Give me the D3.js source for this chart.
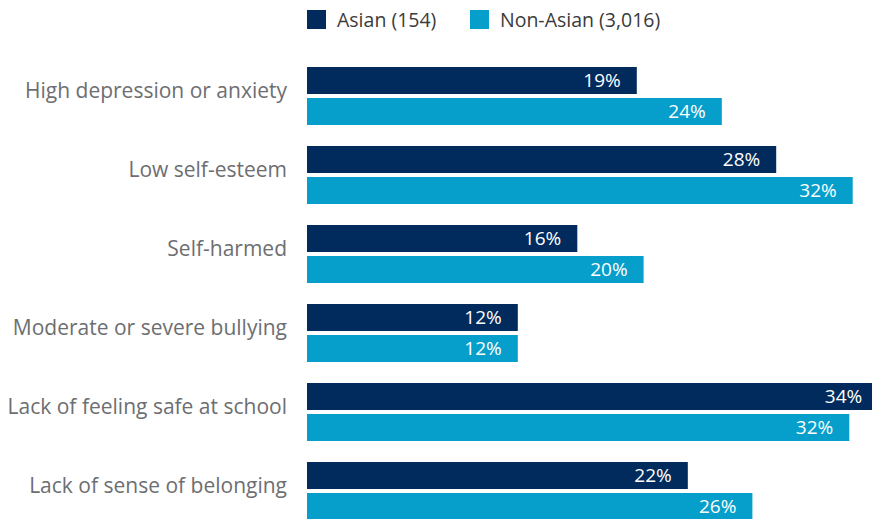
<!DOCTYPE html>
<html>
<head>
<meta charset="utf-8">
<script src="https://cdn.jsdelivr.net/npm/d3@7"></script>
<style>
  html, body { margin: 0; padding: 0; background: #fff; }
  svg { display: block; font-family: "Open Sans", sans-serif; }
</style>
</head>
<body>
<svg id="chart" width="872" height="519"></svg>
<script>
const categories = [
  "High depression or anxiety",
  "Low self-esteem",
  "Self-harmed",
  "Moderate or severe bullying",
  "Lack of feeling safe at school",
  "Lack of sense of belonging"
];
const seriesNames = ["Asian (154)", "Non-Asian (3,016)"];
const asianValues = [19.4, 27.6, 15.9, 12.4, 33.6, 22.4];
const nonAsianValues = [24.4, 32.1, 19.8, 12.4, 31.9, 26.2];
const colors = ["#012b5c", "#069fcb"];

const svg = d3.select("#chart");
const left = 307;

const x = d3.scaleLinear().domain([0, 33.235]).range([left, 872]);
const y = d3.scaleBand().domain(categories).range([67, 520]).paddingInner(0.266).paddingOuter(0);
const ySub = d3.scaleBand().domain([0, 1]).range([0, y.bandwidth()]).paddingInner(0.129);

const rows = categories.map((c, i) => ({ cat: c, vals: [asianValues[i], nonAsianValues[i]] }));

const g = svg.append("g");
const row = g.selectAll("g.row").data(rows).join("g")
  .attr("class", "row")
  .attr("transform", d => `translate(0,${y(d.cat)})`);

row.selectAll("rect").data(d => d.vals.map((v, k) => ({ v, k }))).join("rect")
  .attr("x", x(0))
  .attr("y", d => ySub(d.k))
  .attr("width", d => x(d.v) - x(0))
  .attr("height", ySub.bandwidth())
  .attr("fill", d => colors[d.k]);

row.selectAll("text.val").data(d => d.vals.map((v, k) => ({ v, k }))).join("text")
  .attr("class", "val")
  .attr("x", d => x(d.v) - 16)
  .attr("y", d => ySub(d.k) + ySub.bandwidth() / 2 + 7)
  .attr("text-anchor", "end")
  .attr("fill", "#fff")
  .attr("font-size", 19)
  .text(d => Math.round(d.v) + "%");

row.append("text")
  .attr("x", 287)
  .attr("y", y.bandwidth() / 2 + 2)
  .attr("text-anchor", "end")
  .attr("fill", "#6d6e71")
  .attr("font-size", 21)
  .text(d => d.cat);

// legend
const legendX = [307, 470];
const leg = svg.append("g").selectAll("g").data(seriesNames).join("g")
  .attr("transform", (d, i) => `translate(${legendX[i]},10)`);
leg.append("rect").attr("width", 19).attr("height", 19).attr("fill", (d, i) => colors[i]);
leg.append("text").attr("x", 30).attr("y", 16.5)
  .attr("fill", "#3b3b3b").attr("font-size", 19.5).text(d => d);
</script>
</body>
</html>
